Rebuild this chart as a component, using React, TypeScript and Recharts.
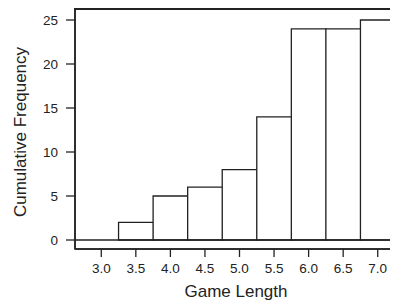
import React from "react";
import { BarChart, Bar, XAxis, YAxis, ReferenceLine, Label } from "recharts";

// cumulative frequency of game lengths
const gameLengths = ["3.0", "3.5", "4.0", "4.5", "5.0", "5.5", "6.0", "6.5", "7.0"];
const cumulativeFrequency = [0, 2, 5, 6, 8, 14, 24, 24, 25];
const yTicks = [0, 5, 10, 15, 20, 25];

const data = gameLengths.map((length, i) => ({
  length,
  freq: cumulativeFrequency[i],
}));

const ink = "#222";
const font = "'Liberation Sans', Arial, sans-serif";
const frame = { stroke: ink, strokeWidth: 1.5 };

export default function App() {
  return (
    // negative margin cancels the body margin so the chart fills the window exactly
    <div style={{ position: "relative", margin: -8, width: 398, height: 308, overflow: "hidden", background: "#fff" }}>
      <BarChart
        width={398}
        height={308}
        data={data}
        margin={{ top: 9, right: 1, left: 0, bottom: 0 }}
        barCategoryGap={0}
        barGap={0}
      >
        {/* box around the plot region */}
        <rect x={75} y={9} width={322} height={240} fill="none" stroke={ink} strokeWidth={1.5} />
        <XAxis
          dataKey="length"
          interval={0}
          height={59}
          tickSize={8}
          tickMargin={6}
          padding={{ left: 9, right: 2 }}
          axisLine={frame}
          tickLine={{ stroke: ink, strokeWidth: 1.3 }}
          tick={{ fill: ink, fontSize: 13.5, fontFamily: font }}
        >
          <Label
            value="Game Length"
            position="insideBottom"
            offset={11}
            style={{ fill: ink, fontSize: 17, fontFamily: font }}
          />
        </XAxis>
        <YAxis
          type="number"
          domain={[0, 25]}
          ticks={yTicks}
          width={75}
          tickSize={9}
          tickMargin={8}
          padding={{ top: 11, bottom: 9 }}
          axisLine={frame}
          tickLine={{ stroke: ink, strokeWidth: 1.3 }}
          tick={{ fill: ink, fontSize: 13.5, fontFamily: font }}
        >
          <Label
            content={({ viewBox }: any) => {
              const cx = viewBox.x + 20;
              const cy = viewBox.y + viewBox.height / 2 + 3;
              return (
                <text
                  x={cx}
                  y={cy}
                  transform={`rotate(-90, ${cx}, ${cy})`}
                  textAnchor="middle"
                  dominantBaseline="central"
                  fill={ink}
                  fontSize={17}
                  fontFamily={font}
                >
                  Cumulative Frequency
                </text>
              );
            }}
          />
        </YAxis>
        <ReferenceLine y={0} stroke={ink} strokeWidth={1.5} />
        <Bar
          dataKey="freq"
          fill="#fff"
          stroke={ink}
          strokeWidth={1.3}
          isAnimationActive={false}
        />
      </BarChart>
      <div
        style={{
          position: "absolute",
          left: 74,
          top: 8,
          width: 324,
          height: 242,
          borderTop: `2px solid ${ink}`,
          boxSizing: "border-box",
          pointerEvents: "none",
        }}
      />
    </div>
  );
}
